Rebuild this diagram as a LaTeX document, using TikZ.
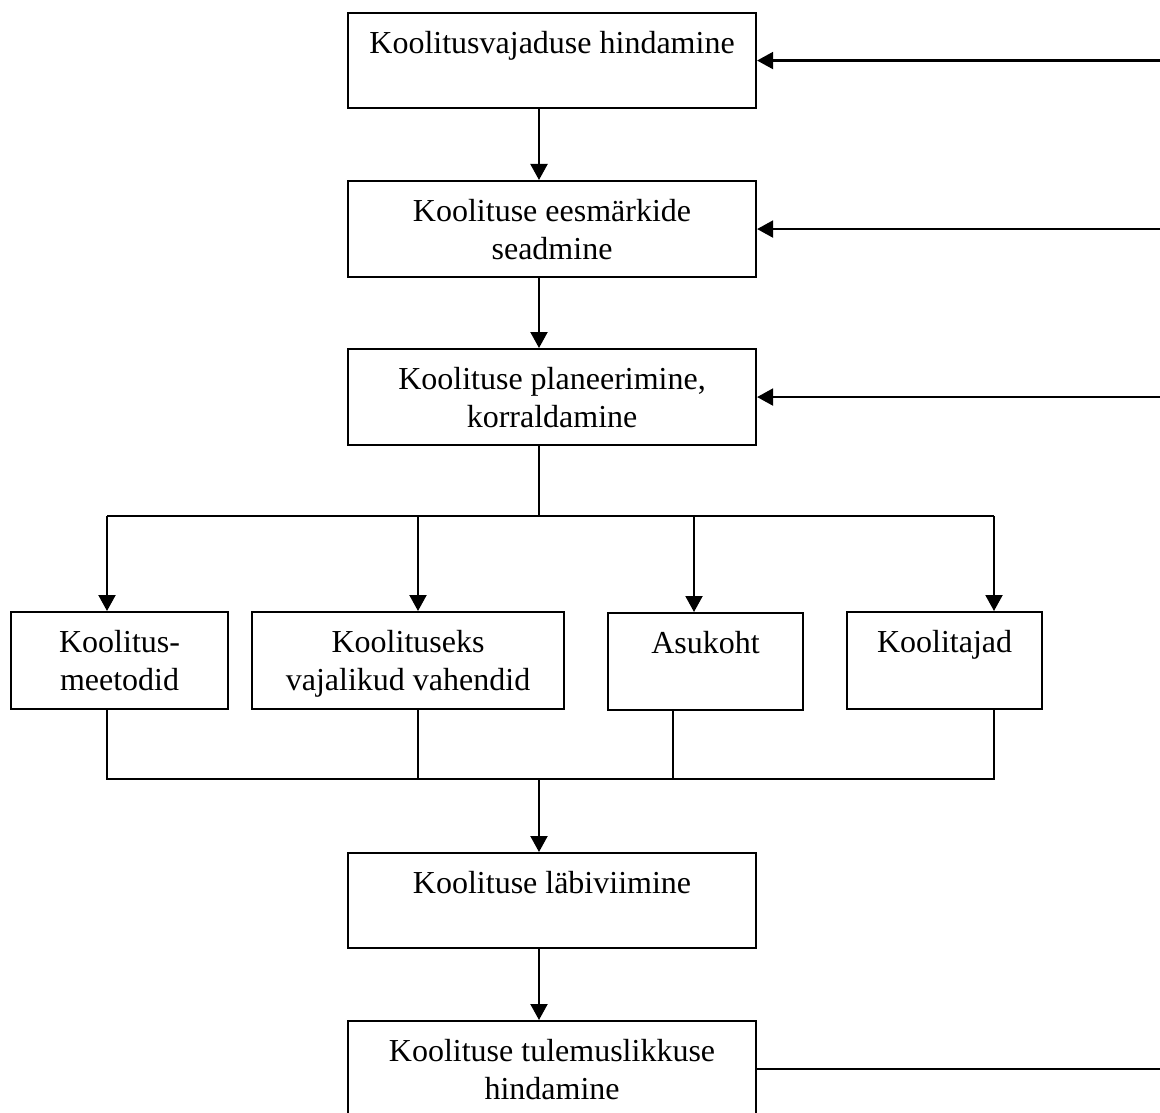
\documentclass[tikz,border=0pt]{standalone}
\usepackage{fontspec}
\setmainfont{Liberation Serif}
\usetikzlibrary{arrows.meta}
\newcommand{\bxt}[3]{\parbox[c][#2][t]{#1}{\centering\vspace*{14.5pt}\strut #3}}
\tikzset{
  proc/.style={draw, line width=2.1pt, inner sep=0pt, anchor=north west,
    font=\fontsize{32}{37.5}\selectfont},
  conn/.style={line width=2.1pt},
  arr/.style={conn, -{Triangle[length=16pt,width=17pt]}}
}
\begin{document}
\begin{tikzpicture}[x=1pt,y=-1pt]
\clip (0,0) rectangle (1160,1113);
\fill[white] (0,0) rectangle (1160,1113);
% main boxes
\node[proc] (b1) at (347,12)   {\bxt{408pt}{95pt}{Koolitusvajaduse hindamine}};
\node[proc] (b2) at (347,180)  {\bxt{408pt}{96pt}{Koolituse eesmärkide\\seadmine}};
\node[proc] (b3) at (347,348)  {\bxt{408pt}{96pt}{Koolituse planeerimine,\\korraldamine}};
% resource boxes
\node[proc] (bA) at (10,611)   {\bxt{217pt}{97pt}{Koolitus-\\meetodid}};
\node[proc] (bB) at (251,611)  {\bxt{312pt}{97pt}{Koolituseks\\vajalikud vahendid}};
\node[proc] (bC) at (607,612)  {\bxt{195pt}{97pt}{Asukoht}};
\node[proc] (bD) at (846,611)  {\bxt{195pt}{97pt}{Koolitajad}};
% lower boxes
\node[proc] (b5) at (347,852)  {\bxt{408pt}{95pt}{Koolituse läbiviimine}};
\node[proc] (b6) at (347,1020) {\bxt{408pt}{96pt}{Koolituse tulemuslikkuse\\hindamine}};
% helper coordinates
\coordinate (spine) at (539,0);
\coordinate (busT) at (539,516);
\coordinate (busB) at (539,779);
\coordinate (xA) at (107,0);
\coordinate (xB) at (418,0);
\coordinate (xC) at (694,0);
\coordinate (xCb) at (673,0);
\coordinate (xD) at (994,0);
\coordinate (fb) at (1162,0);
% main chain
\draw[arr] (b1.south -| spine) -- (b2.north -| spine);
\draw[arr] (b2.south -| spine) -- (b3.north -| spine);
\draw[conn] (b3.south -| spine) -- (busT);
% top distribution bus
\draw[conn] (xA |- busT) -- (xD |- busT);
\draw[arr] (xA |- busT) -- (xA |- bA.north);
\draw[arr] (xB |- busT) -- (xB |- bB.north);
\draw[arr] (xC |- busT) -- (xC |- bC.north);
\draw[arr] (xD |- busT) -- (xD |- bD.north);
% bottom collecting bus
\draw[conn] (xA |- bA.south) -- (xA |- busB) -- (xD |- busB) -- (xD |- bD.south);
\draw[conn] (xB |- bB.south) -- (xB |- busB);
\draw[conn] (xCb |- bC.south) -- (xCb |- busB);
\draw[arr] (busB) -- (b5.north -| spine);
\draw[arr] (b5.south -| spine) -- (b6.north -| spine);
% feedback
\draw[conn] (b6.east) -- (fb |- b6.east);
\draw[arr] (fb |- b1.east) -- (b1.east);
\draw[arr] (fb |- b2.east) -- (b2.east);
\draw[arr] (fb |- b3.east) -- (b3.east);
\end{tikzpicture}
\end{document}
